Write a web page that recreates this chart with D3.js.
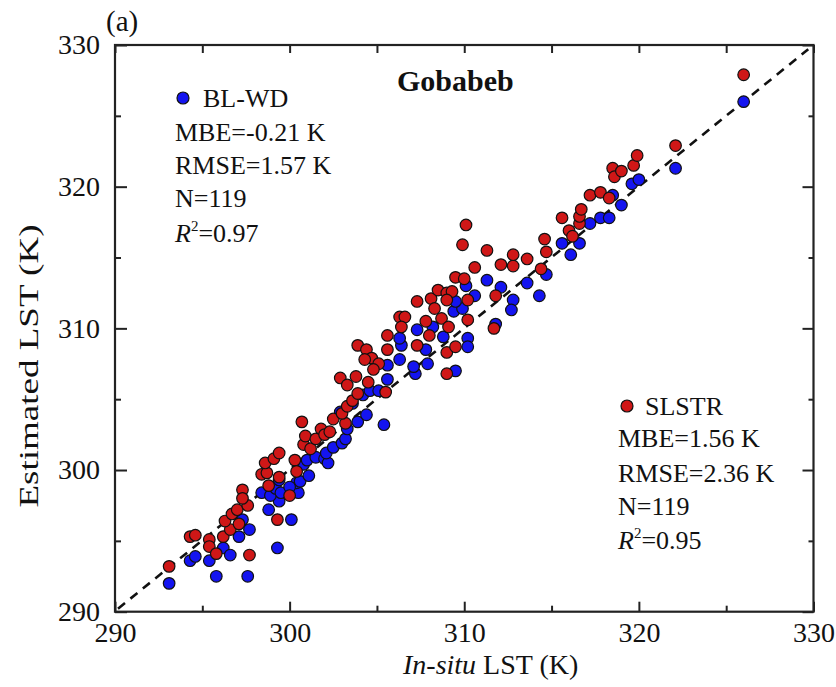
<!DOCTYPE html>
<html><head><meta charset="utf-8">
<script src="https://cdn.jsdelivr.net/npm/d3@7/dist/d3.min.js"></script>
<style>body{margin:0;background:#fff}svg{display:block}text{font-family:"Liberation Serif","Times New Roman",serif;fill:#111}</style>
</head><body><svg id="c" width="836" height="687"></svg>
<script>
// ---- data ----
const blueX = [293.1,294.3,294.6,295.4,295.8,296.2,296.6,297.6,297.1,297.7,297.3,299.3,300.1,298.8,299.4,298.4,298.9,300.5,300.4,300.8,299.2,299.4,299.5,300.0,300.6,301.1,301.0,301.5,302.0,302.2,302.1,302.5,303.0,303.2,303.3,302.9,303.9,304.4,305.4,304.2,304.6,305.1,305.6,305.6,306.3,306.4,307.2,307.9,307.8,306.3,307.3,308.2,308.8,307.1,309.5,310.2,310.2,309.4,309.9,309.5,310.1,310.6,311.3,312.1,311.8,312.8,312.7,313.6,314.3,314.7,315.6,316.6,316.1,317.2,317.8,318.3,318.5,319.0,319.6,320.0,322.1,326.0,303.6];
const blueY = [292.0,293.6,293.9,293.6,292.5,294.5,294.0,292.5,295.3,295.8,296.5,294.5,296.5,297.2,297.8,298.4,298.2,298.4,299.1,300.4,298.7,299.3,298.4,298.8,299.2,299.6,300.7,300.9,300.8,300.5,301.2,301.6,301.9,302.2,302.9,304.1,303.4,303.9,303.2,305.3,305.6,305.6,306.4,307.4,307.8,308.8,306.8,307.5,308.5,309.3,309.9,310.1,309.4,307.3,307.0,309.3,308.7,311.2,311.4,311.9,313.0,312.3,313.4,312.9,310.3,312.0,311.3,313.2,312.3,313.8,316.0,316.0,315.2,317.4,317.8,317.8,319.4,318.7,320.2,320.5,321.3,326.0,304.7];
const redX = [293.1,294.3,294.6,295.4,295.4,295.8,296.2,296.6,296.3,296.7,297.1,297.0,297.6,297.3,297.3,297.7,298.4,298.7,298.8,298.6,299.1,299.4,299.4,299.3,300.0,300.3,300.4,300.7,300.8,300.9,301.2,301.5,301.8,302.0,302.3,302.5,303.2,303.0,303.3,303.6,303.9,302.9,303.3,303.8,304.5,305.5,303.9,304.4,304.7,304.3,305.1,304.8,305.6,307.3,305.6,306.3,306.6,306.4,307.3,307.8,308.0,308.1,308.3,308.5,308.7,309.0,309.3,309.0,309.1,309.0,309.5,309.0,309.5,310.0,309.9,310.1,310.2,310.2,310.6,311.3,311.8,311.7,312.1,312.8,312.8,313.6,314.4,314.6,314.7,315.6,316.0,316.2,316.6,316.6,316.7,317.2,317.8,318.3,318.5,318.6,319.0,319.7,319.9,322.1,326.0];
const redY = [293.2,295.3,295.4,295.1,294.6,294.1,295.3,295.8,296.4,296.9,296.2,297.2,297.5,298.6,298.0,294.0,299.7,299.8,298.9,300.5,300.8,301.2,299.5,296.5,298.2,300.7,299.9,303.4,301.8,302.4,301.5,302.2,302.9,302.5,302.7,303.6,303.3,304.0,304.5,304.9,305.4,306.5,306.0,306.6,306.2,305.5,308.8,308.5,307.9,307.8,307.5,307.1,308.5,308.8,309.5,310.8,310.8,310.1,311.9,310.5,309.5,312.1,311.4,312.7,310.7,312.5,312.6,312.0,310.1,308.3,308.7,306.8,313.6,313.5,315.9,317.3,312.0,310.6,314.3,315.5,312.3,310.0,314.5,314.4,315.2,314.9,314.2,316.3,315.4,317.8,316.9,316.5,317.4,317.9,318.4,319.4,319.6,319.2,321.3,320.7,321.1,321.5,322.2,322.9,327.9];
const majorTicks = [290,300,310,320,330];
const minorTicks = [295,305,315,325];
const oneToOne = [290,330];
const siteName = "Gobabeb";
const panelLabel = "(a)";
const statsBlue = {name:"BL-WD", mbe:"MBE=-0.21 K", rmse:"RMSE=1.57 K", n:"N=119", r2:"=0.97"};
const statsRed  = {name:"SLSTR", mbe:"MBE=1.56 K", rmse:"RMSE=2.36 K", n:"N=119", r2:"=0.95"};

// ---- drawing ----
const svg = d3.select("#c");
const L=115, R=813.5, T=45, B=611.7;
const x = d3.scaleLinear().domain([290,330]).range([L,R]);
const y = d3.scaleLinear().domain([290,330]).range([B,T]);
const blueC="#1414f0", redC="#cf1717";

// axes: ticks inside
const fmt = d3.format("d");
svg.append("g").attr("transform",`translate(0,${B})`)
  .call(d3.axisBottom(x).tickValues(majorTicks).tickSize(-10).tickPadding(10).tickFormat(fmt));
svg.append("g").attr("transform",`translate(0,${B})`)
  .call(d3.axisBottom(x).tickValues(minorTicks).tickSize(-6).tickFormat(""));
svg.append("g").attr("transform",`translate(0,${T})`)
  .call(d3.axisTop(x).tickValues(majorTicks.concat(minorTicks)).tickSize(-8).tickFormat(""));
svg.append("g").attr("transform",`translate(${L},0)`)
  .call(d3.axisLeft(y).tickValues(majorTicks).tickSize(-12).tickPadding(15).tickFormat(fmt));
svg.append("g").attr("transform",`translate(${L},0)`)
  .call(d3.axisLeft(y).tickValues(minorTicks).tickSize(-6).tickFormat(""));
svg.append("g").attr("transform",`translate(${R},0)`)
  .call(d3.axisRight(y).tickValues(majorTicks).tickSize(-11).tickFormat(""));
svg.append("g").attr("transform",`translate(${R},0)`)
  .call(d3.axisRight(y).tickValues(minorTicks).tickSize(-5).tickFormat(""));
svg.selectAll(".domain").remove();
svg.selectAll(".tick line").attr("stroke","#222").attr("stroke-width",2);
svg.selectAll(".tick text").attr("font-size",28).attr("fill","#111")
   .attr("font-family","'Liberation Serif',serif");
svg.append("rect").attr("x",L).attr("y",T).attr("width",R-L).attr("height",B-T)
  .attr("fill","none").attr("stroke","#222").attr("stroke-width",2.2);

// 1:1 line
svg.append("line").attr("x1",x(oneToOne[0])+3).attr("y1",y(oneToOne[0])-3)
  .attr("x2",x(329.7)).attr("y2",y(329.7))
  .attr("stroke","#111").attr("stroke-width",2.6).attr("stroke-dasharray","9,7");

// points
const pts = (xs,ys)=>xs.map((v,i)=>({x:v,y:ys[i]}));
svg.append("g").selectAll("circle").data(pts(blueX,blueY)).join("circle")
  .attr("cx",d=>x(d.x)).attr("cy",d=>y(d.y)).attr("r",5.8)
  .attr("fill",blueC).attr("stroke","#111").attr("stroke-width",1.2);
svg.append("g").selectAll("circle").data(pts(redX,redY)).join("circle")
  .attr("cx",d=>x(d.x)).attr("cy",d=>y(d.y)).attr("r",5.8)
  .attr("fill",redC).attr("stroke","#111").attr("stroke-width",1.2);

// title & panel label
svg.append("text").attr("x",397).attr("y",91).attr("font-size",30).attr("font-weight","bold").text(siteName);
svg.append("text").attr("x",106).attr("y",31).attr("font-size",29).text(panelLabel);

// legends
function legend(st, mx, my, tx, ty, lx, lines, col){
  svg.append("circle").attr("cx",mx).attr("cy",my).attr("r",6).attr("fill",col).attr("stroke","#111").attr("stroke-width",1.2);
  svg.append("text").attr("x",tx).attr("y",ty).attr("font-size",26).text(st.name);
  [st.mbe, st.rmse, st.n].forEach((s,i)=>svg.append("text").attr("x",lx).attr("y",lines[i]).attr("font-size",26).text(s));
  const t = svg.append("text").attr("x",lx).attr("y",lines[3]).attr("font-size",26);
  t.append("tspan").attr("font-style","italic").text("R");
  t.append("tspan").attr("font-size",15).attr("dy",-11).text("2");
  t.append("tspan").attr("dy",11).text(st.r2);
}
legend(statsBlue,183,98,203,107,175,[141,174,207,242],blueC);
legend(statsRed,627,406,645,415,618,[447,482,515,549],redC);

// axis titles
const xt = svg.append("text").attr("x",403).attr("y",674).attr("font-size",28);
xt.append("tspan").attr("font-style","italic").text("In-situ");
xt.append("tspan").text(" LST (K)");
svg.append("text").attr("transform","translate(38,366) rotate(-90)").attr("text-anchor","middle")
  .attr("font-size",28).attr("textLength",283).attr("lengthAdjust","spacingAndGlyphs").text("Estimated LST (K)");
</script></body></html>
